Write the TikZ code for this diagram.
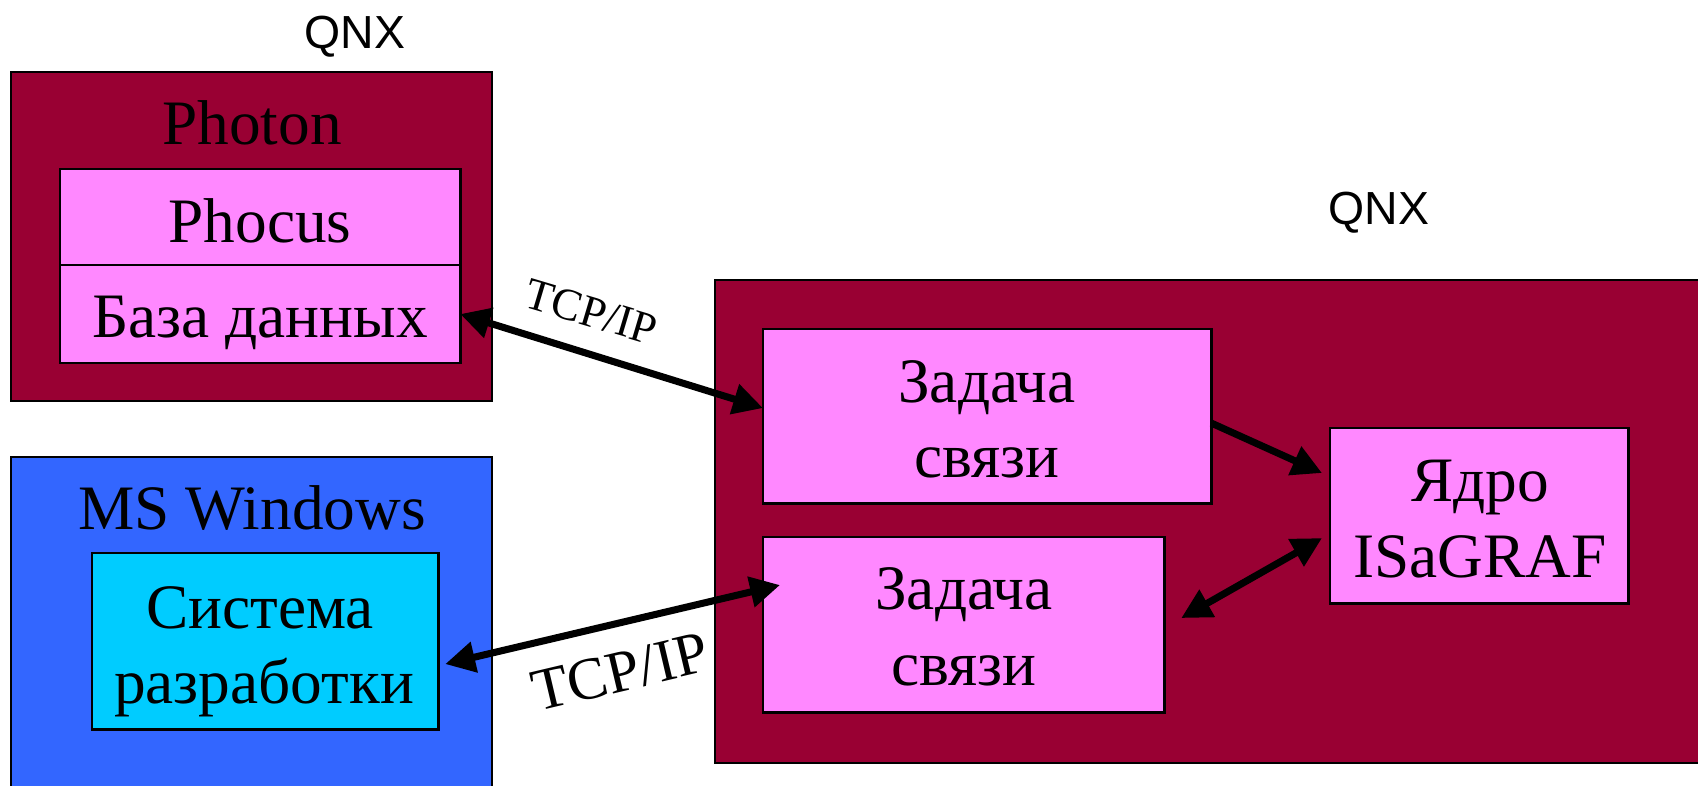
\documentclass[tikz,border=0pt]{standalone}
\usepackage{fontspec}
\setmainfont{Liberation Serif}
\newfontfamily\arialfont{Liberation Sans}
\usetikzlibrary{arrows.meta,calc}
\definecolor{qnxred}{HTML}{990033}
\definecolor{pinkbox}{HTML}{FF88FF}
\definecolor{winblue}{HTML}{3366FF}
\definecolor{cyanbox}{HTML}{00CCFF}
\begin{document}
\begin{tikzpicture}[x=0.01cm,y=-0.01cm,
  outerbox/.style={draw=black, line width=0.6pt, inner sep=0pt, outer sep=0pt, anchor=north west},
  innerbox/.style={draw=black, line width=0.8pt, inner sep=0pt, outer sep=0pt, anchor=north west, fill=pinkbox},
  txt/.style={anchor=base, inner sep=0pt, font=\fontsize{18}{21.6}\selectfont},
  qnxlbl/.style={anchor=base, inner sep=0pt, font=\arialfont\fontsize{13.2}{15}\selectfont},
  conn/.style={line width=2pt, -{Triangle[length=8.5pt,width=8.5pt]}},
  dconn/.style={line width=2pt, {Triangle[length=8.5pt,width=8.5pt]}-{Triangle[length=8.5pt,width=8.5pt]}},
  tcp/.style={inner sep=0pt}]
\useasboundingbox (0,0) rectangle (1698,785);

% QNX labels
\node[qnxlbl] (qnx1) at (355,49) {QNX};
\node[qnxlbl] (qnx2) at (1379,225) {QNX};

% Photon block
\node[outerbox, fill=qnxred, minimum width=4.81cm, minimum height=3.29cm] (photon) at (11,72) {};
\node[txt] (photontxt) at (252,145) {Photon};
\node[innerbox, minimum width=4.00cm, minimum height=0.96cm] (phocus) at (60,169) {};
\node[innerbox, minimum width=4.00cm, minimum height=0.98cm] (baza) at (60,265) {};
\node[txt] (phocustxt) at (260,242) {Phocus};
\node[txt] (bazatxt) at (260,337) {База данных};

% MS Windows block
\node[outerbox, fill=winblue, minimum width=4.81cm, minimum height=3.40cm] (win) at (11,457) {};
\node[txt] (wintxt) at (252,529) {MS Windows};
\node[outerbox, line width=0.8pt, fill=cyanbox, minimum width=3.46cm, minimum height=1.76cm] (sys) at (92,553) {};
\node[txt] (systxt1) at (260,628) {Система};
\node[txt] (systxt2) at (264,703) {разработки};

% right QNX block
\node[outerbox, fill=qnxred, minimum width=9.95cm, minimum height=4.83cm] (rqnx) at (715,280) {};
\node[innerbox, minimum width=4.48cm, minimum height=1.74cm] (z1) at (763,329) {};
\node[txt] (z1a) at (987,402) {Задача};
\node[txt] (z1b) at (987,477) {связи};
\node[innerbox, minimum width=4.01cm, minimum height=1.75cm] (z2) at (763,537) {};
\node[txt] (z2a) at (964,609) {Задача};
\node[txt] (z2b) at (964,685) {связи};
\node[innerbox, minimum width=2.98cm, minimum height=1.75cm] (core) at (1330,428) {};
\node[txt] (corea) at (1480,501) {Ядро};
\node[txt] (coreb) at (1480,577) {ISaGRAF};

% connectors
\draw[dconn] (baza.east) -- ([yshift=0.8mm]z1.west);
\draw[dconn] ([xshift=0.7mm,yshift=-2.3mm]sys.east) -- ([xshift=1.7mm,yshift=3.95mm]z2.west);
\draw[conn] ([yshift=-0.7mm]z1.east) -- ([xshift=-0.8mm,yshift=4.25mm]core.west);
\draw[dconn] ([xshift=1.7mm,yshift=0.65mm]z2.east) -- ([xshift=-0.8mm,yshift=-2.25mm]core.west);

% TCP/IP labels
\node[tcp, rotate=-16.6, font=\fontsize{12.8}{15}\selectfont] (tcp1) at (591,312) {TCP/IP};
\node[tcp, rotate=13.3, font=\fontsize{17}{20}\selectfont] (tcp2) at (620,672) {TCP/IP};
\end{tikzpicture}
\end{document}
